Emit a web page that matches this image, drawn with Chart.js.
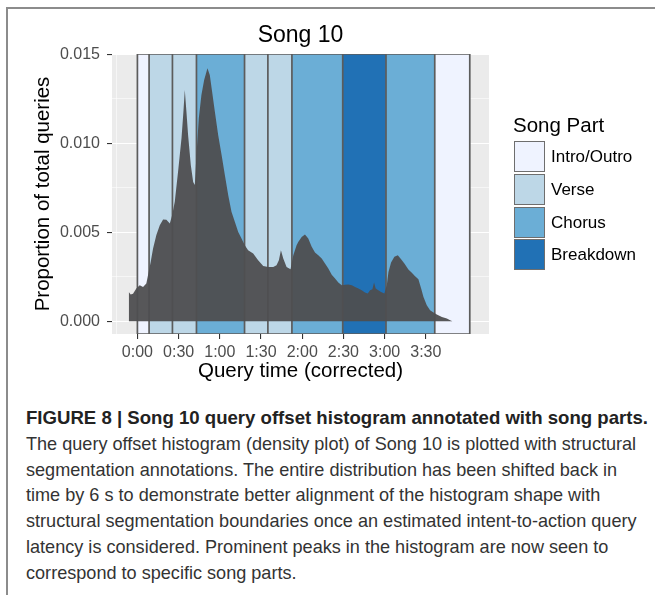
<!DOCTYPE html>
<html>
<head>
<meta charset="utf-8">
<script src="https://cdn.jsdelivr.net/npm/chart.js@4.4.1/dist/chart.umd.min.js"></script>
<style>
html,body{margin:0;padding:0;background:#fff;}
body{width:655px;height:595px;position:relative;overflow:hidden;font-family:"Liberation Sans",Arial,Helvetica,sans-serif;}
#frameTop{position:absolute;left:6px;top:7px;width:649px;height:2px;background:#8c8c8c;}
#frameLeft{position:absolute;left:6px;top:7px;width:2px;height:588px;background:#8c8c8c;}
#chartBox{position:absolute;left:0;top:0;width:655px;height:390px;}
#legend{position:absolute;left:513px;top:113px;}
#legend .ttl{font-size:20.5px;line-height:24px;color:#000;white-space:nowrap;}
.row{position:absolute;left:1px;height:31px;white-space:nowrap;}
.box{position:absolute;left:0;top:0;width:31px;height:31px;box-sizing:border-box;border:1.6px solid #6e6e6e;}
.lab{position:absolute;left:37px;top:0;font-size:17px;line-height:31px;color:#000;}
#caption{position:absolute;left:26px;top:405px;font-size:18.1px;line-height:25.8px;color:#333;white-space:nowrap;}
#caption b{font-size:18.6px;color:#222;}
</style>
</head>
<body>
<div id="frameTop"></div>
<div id="frameLeft"></div>
<div id="chartBox"><canvas id="c" width="655" height="390"></canvas></div>
<div id="legend"></div>
<div id="caption"></div>
<script>
// ---------- data ----------
const chartTitle = 'Song 10';
const xTitle = 'Query time (corrected)';
const yTitle = 'Proportion of total queries';
const legendTitle = 'Song Part';

// song structure (seconds)
const partStart = [0, 8.5, 25.5, 43, 78, 95, 112.5, 149.5, 181, 216.5];
const partEnd   = [8.5, 25.5, 43, 78, 95, 112.5, 149.5, 181, 216.5, 242];
const partType  = ['Intro/Outro','Verse','Verse','Chorus','Verse','Verse','Chorus','Breakdown','Chorus','Intro/Outro'];
const partNames = ['Intro/Outro','Verse','Chorus','Breakdown'];
const partColors = ['#EFF3FF','#BDD7E7','#6BAED6','#2171B5'];

// histogram
const histTime = [-6.3,-4.9,-3.2,-0.8,1.7,4.1,6.5,8.2,9.7,11.4,13.8,16.3,18.7,21.1,23.6,25.3,27.2,29.6,32.1,33.5,34.5,35.7,36.9,38.9,40.6,41.8,43.0,44.7,46.6,48.6,51.0,52.7,54.4,56.4,58.8,61.3,63.7,66.1,68.5,71.0,73.4,75.8,78.2,80.6,84.3,87.9,91.6,95.2,98.9,101.3,103.0,104.5,106.2,108.6,111.5,113.5,115.9,117.1,119.6,122.0,124.4,126.9,129.3,131.7,134.2,136.6,139.0,141.5,143.9,146.3,148.8,151.2,153.6,156.1,158.5,160.9,163.3,165.7,167.7,169.4,171.1,172.3,173.5,175.4,177.4,179.8,181.6,182.8,184.7,187.1,189.6,192.0,194.4,197.3,199.8,202.2,204.6,206.6,208.3,210.7,213.1,215.6,218.0,221.7,225.3,227.7,229.4];
const histValue = [0.00165,0.00150,0.00155,0.00184,0.00202,0.00193,0.00212,0.00277,0.00334,0.00409,0.00484,0.00540,0.00572,0.00570,0.00549,0.00596,0.00671,0.00840,0.01028,0.01177,0.01299,0.01177,0.01046,0.00877,0.00783,0.00765,0.00934,0.01140,0.01271,0.01355,0.01421,0.01384,0.01290,0.01177,0.01046,0.00934,0.00821,0.00709,0.00615,0.00558,0.00502,0.00465,0.00427,0.00399,0.00381,0.00343,0.00311,0.00305,0.00305,0.00315,0.00343,0.00399,0.00353,0.00305,0.00292,0.00371,0.00427,0.00446,0.00474,0.00488,0.00465,0.00418,0.00386,0.00371,0.00352,0.00324,0.00296,0.00262,0.00240,0.00218,0.00202,0.00205,0.00207,0.00202,0.00193,0.00184,0.00174,0.00161,0.00156,0.00174,0.00180,0.00218,0.00184,0.00174,0.00165,0.00156,0.00202,0.00277,0.00330,0.00362,0.00371,0.00349,0.00324,0.00291,0.00272,0.00253,0.00236,0.00184,0.00137,0.00090,0.00062,0.00049,0.00038,0.00024,0.00015,0.00006,0];

// axes
const xMin = -18.5, xMax = 256;
const yMin = -0.000715, yMax = 0.015015;
const xTickValues = [-15,0,15,30,45,60,75,90,105,120,135,150,165,180,195,210,225];
const xMajor = [0,30,60,90,120,150,180,210];
const xTickLabels = ['0:00','0:30','1:00','1:30','2:00','2:30','3:00','3:30'];
const yTickValues = [0,0.0025,0.005,0.0075,0.01,0.0125,0.015];
const yMajor = [0,0.005,0.01,0.015];
const yTickLabels = ['0.000','0.005','0.010','0.015'];

const captionBold = 'FIGURE 8 | Song 10 query offset histogram annotated with song parts.';
const captionLines = [
  'The query offset histogram (density plot) of Song 10 is plotted with structural',
  'segmentation annotations. The entire distribution has been shifted back in',
  'time by 6 s to demonstrate better alignment of the histogram shape with',
  'structural segmentation boundaries once an estimated intent-to-action query',
  'latency is considered. Prominent peaks in the histogram are now seen to',
  'correspond to specific song parts.'
];

// ---------- build ----------
const FONT = '"Liberation Sans", Arial, Helvetica, sans-serif';
const colorOf = t => partColors[partNames.indexOf(t)];
const near = (a, b) => Math.abs(a - b) < 1e-9;
const isXMajor = v => xMajor.some(m => near(m, v));
const isYMajor = v => yMajor.some(m => near(m, v));

const datasets = [];
datasets.push({
  label: 'histogram',
  data: histTime.map((t, i) => ({x: t, y: histValue[i]})),
  fill: 'origin',
  backgroundColor: 'rgba(78,78,80,0.95)',
  borderColor: 'rgba(0,0,0,0)',
  borderWidth: 0,
  pointRadius: 0,
  tension: 0,
  order: 0
});
// outline of song parts, from the part boundaries
const bounds = partStart.concat([partEnd[partEnd.length - 1]]);
const edgePts = [];
bounds.forEach((b, i) => {
  const pair = i % 2 === 0 ? [yMin, yMax] : [yMax, yMin];
  edgePts.push({x: b, y: pair[0]}, {x: b, y: pair[1]});
});
const lastY = edgePts[edgePts.length - 1].y;
const otherY = lastY === yMax ? yMin : yMax;
edgePts.push({x: bounds[0], y: lastY}, {x: bounds[0], y: otherY}, {x: bounds[bounds.length - 1], y: otherY});
datasets.push({
  label: 'edges',
  data: edgePts,
  fill: false,
  borderColor: '#5c5c5c',
  borderWidth: 1.7,
  pointRadius: 0,
  tension: 0,
  order: 1
});
partStart.forEach((s, i) => {
  datasets.push({
    label: partType[i],
    data: [{x: s, y: yMax}, {x: partEnd[i], y: yMax}],
    fill: {value: yMin},
    backgroundColor: colorOf(partType[i]),
    borderColor: 'rgba(0,0,0,0)',
    borderWidth: 0,
    pointRadius: 0,
    order: 2
  });
});

const panelBg = {
  id: 'panelBg',
  beforeDraw(chart) {
    const {ctx, chartArea: a} = chart;
    ctx.save();
    ctx.fillStyle = '#EBEBEB';
    ctx.fillRect(a.left, a.top, a.right - a.left, a.bottom - a.top);
    ctx.restore();
  }
};

new Chart(document.getElementById('c'), {
  type: 'line',
  data: {datasets},
  options: {
    responsive: false,
    animation: false,
    devicePixelRatio: 1,
    layout: {padding: {left: 0, right: 166, top: 12, bottom: 0}},
    plugins: {
      legend: {display: false},
      tooltip: {enabled: false},
      title: {
        display: true, text: chartTitle, color: '#000', fullSize: false,
        font: {family: FONT, size: 23, weight: 'normal'},
        padding: {top: 9.5, bottom: 4.9}
      }
    },
    scales: {
      x: {
        type: 'linear', min: xMin, max: xMax,
        afterBuildTicks: s => { s.ticks = xTickValues.map(v => ({value: v})); },
        afterFit: s => { s.height = 56; },
        ticks: {
          autoSkip: false, maxRotation: 0, padding: 4,
          color: '#4d4d4d', font: {family: FONT, size: 16},
          callback: v => { const k = xMajor.findIndex(m => near(m, v)); return k >= 0 ? xTickLabels[k] : ''; }
        },
        grid: {
          color: '#ffffff',
          lineWidth: c => (c.tick && isXMajor(c.tick.value)) ? 1.1 : 0.55,
          drawTicks: true, tickLength: 5, tickWidth: 1.1,
          tickColor: c => (c.tick && isXMajor(c.tick.value)) ? '#333333' : 'rgba(0,0,0,0)'
        },
        border: {display: false},
        title: {display: true, text: xTitle, color: '#000', font: {family: FONT, size: 20.5}, padding: {top: 0, bottom: 6.5}}
      },
      y: {
        type: 'linear', min: yMin, max: yMax,
        afterBuildTicks: s => { s.ticks = yTickValues.map(v => ({value: v})); },
        afterFit: s => { s.width = 112; },
        ticks: {
          autoSkip: false, padding: 7,
          color: '#4d4d4d', font: {family: FONT, size: 16},
          callback: v => { const k = yMajor.findIndex(m => near(m, v)); return k >= 0 ? yTickLabels[k] : ''; }
        },
        grid: {
          color: '#ffffff',
          lineWidth: c => (c.tick && isYMajor(c.tick.value)) ? 1.1 : 0.55,
          drawTicks: true, tickLength: 5, tickWidth: 1.1,
          tickColor: c => (c.tick && isYMajor(c.tick.value)) ? '#333333' : 'rgba(0,0,0,0)'
        },
        border: {display: false},
        title: {display: true, text: yTitle, color: '#000', font: {family: FONT, size: 20.5}, padding: {top: 30.7, bottom: 0}}
      }
    }
  },
  plugins: [panelBg]
});

// legend (HTML, from the category arrays)
const lg = document.getElementById('legend');
const t = document.createElement('div'); t.className = 'ttl'; t.textContent = legendTitle; lg.appendChild(t);
partNames.forEach((n, i) => {
  const r = document.createElement('div'); r.className = 'row'; r.style.top = (28 + i * 32.8) + 'px';
  const b = document.createElement('div'); b.className = 'box'; b.style.background = partColors[i];
  const l = document.createElement('div'); l.className = 'lab'; l.textContent = n;
  r.appendChild(b); r.appendChild(l); lg.appendChild(r);
});

// caption
const cap = document.getElementById('caption');
const bl = document.createElement('b'); bl.textContent = captionBold; cap.appendChild(bl);
captionLines.forEach(s => { cap.appendChild(document.createElement('br')); cap.appendChild(document.createTextNode(s)); });
</script>
</body>
</html>
